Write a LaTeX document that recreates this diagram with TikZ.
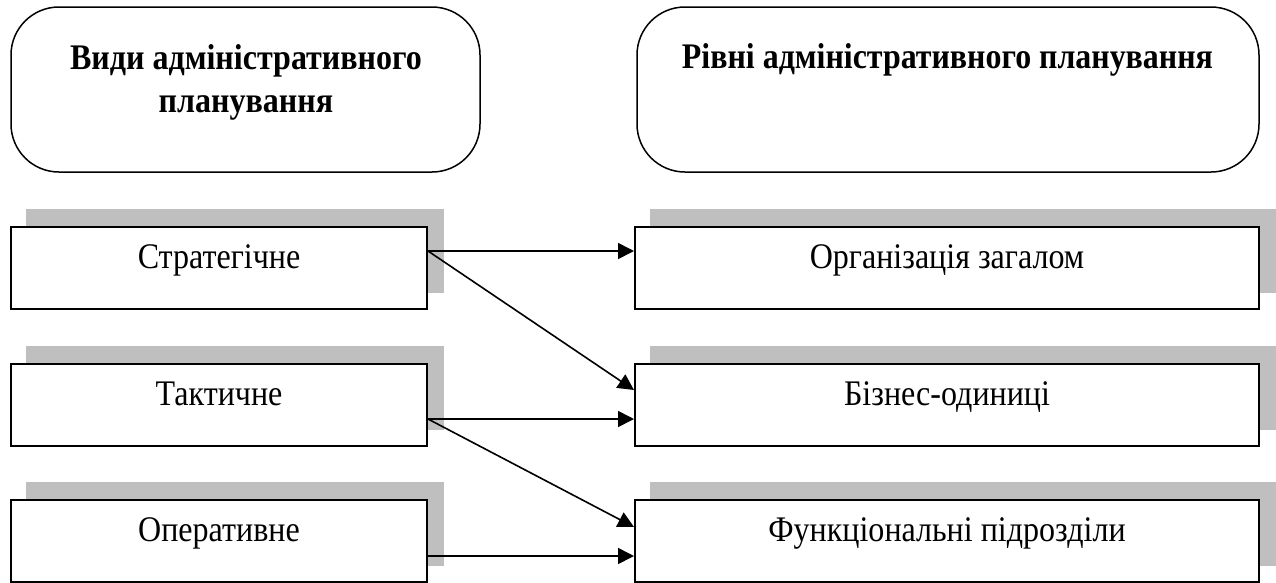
\documentclass[tikz,border=0pt]{standalone}
\usepackage{fontspec}
\usepackage{graphicx}
\setmainfont{Liberation Serif}[FakeStretch=0.89]
\usetikzlibrary{arrows.meta,calc,backgrounds}
\definecolor{shadowgray}{RGB}{191,191,191}
\begin{document}
\begin{tikzpicture}[x=1pt,y=-1pt,
  box/.style={draw=black, line width=2pt, fill=white, minimum width=#1,
    minimum height=82pt, inner sep=0pt, text height=15pt, text depth=15pt,
    font=\fontsize{36}{40}\selectfont},
  rbox/.style={draw=black, line width=1.5pt, rounded corners=48pt,
    minimum height=165pt, inner sep=0pt},
  titletext/.style={inner sep=0pt, align=center, font=\fontsize{36}{43}\selectfont\bfseries},
  conn/.style={line width=1.6pt, -{Triangle[length=16pt,width=16pt]}},
  shadowfill/.style={fill=shadowgray}
]
\useasboundingbox (0,0) rectangle (1276,582);

% title boxes
\node[rbox, minimum width=469pt] (vl) at (245.5,89.5) {};
\node[rbox, minimum width=622pt] (vr) at (948,89.5) {};
\node[titletext] (tl) at (246,82) {Види адміністративного\\планування};
\node[titletext, anchor=base] (tr) at (947.5,68) {\resizebox{531pt}{\height}{Рівні адміністративного планування}};

% left boxes
\node[box=416pt] (s) at (219,268) {Стратегічне};
\node[box=416pt] (t) at (219,405) {Тактичне};
\node[box=416pt] (p) at (219,541) {Оперативне};
% right boxes
\node[box=624pt] (o) at (947,268) {Організація загалом};
\node[box=624pt] (b) at (947,405) {Бізнес-одиниці};
\node[box=624pt] (f) at (947,541) {Функціональні підрозділи};

\begin{scope}[on background layer]
  \fill[white] (0,0) rectangle (1276,582);
  \foreach \n in {s,t,p,o,b,f}
    \fill[shadowfill] ($(\n.north west)+(16,-17)$) rectangle ($(\n.south east)+(16,-17)$);
\end{scope}

% connectors
\draw[conn] ([yshift=17pt]s.east) -- ([yshift=17pt]o.west);
\draw[conn] ([yshift=17pt]s.east) -- ([yshift=15pt]b.west);
\draw[conn] ([yshift=-14pt]t.east) -- ([yshift=-14pt]b.west);
\draw[conn] ([yshift=-14pt]t.east) -- ([yshift=14pt]f.west);
\draw[conn] ([yshift=-15pt]p.east) -- ([yshift=-15pt]f.west);
\end{tikzpicture}
\end{document}
